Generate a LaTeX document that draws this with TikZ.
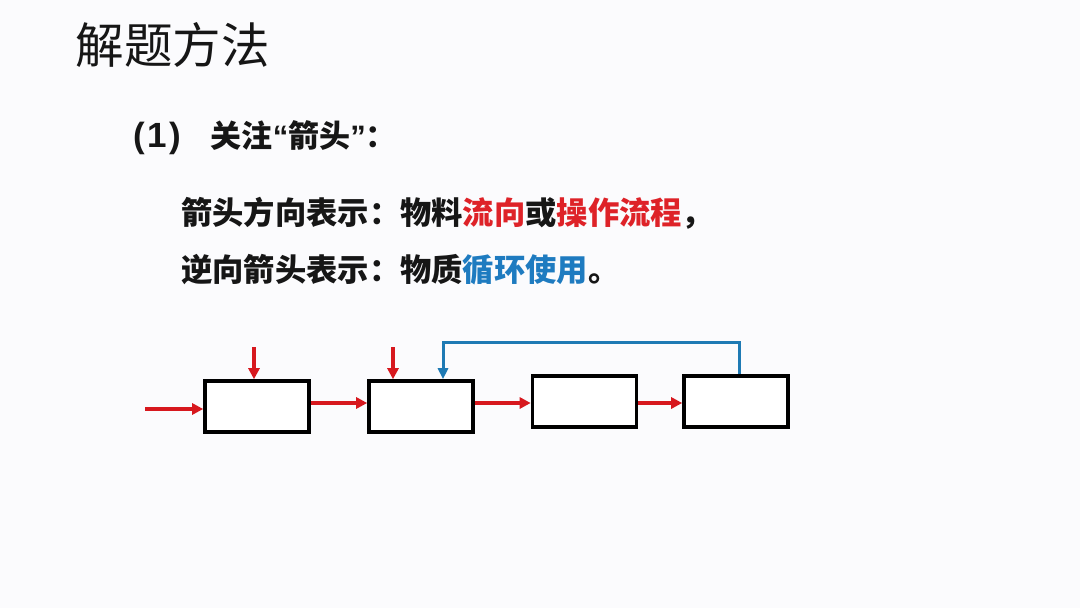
\documentclass[tikz,border=0pt]{standalone}
\usepackage{fontspec}
\newfontfamily\cjk{Noto Sans CJK SC}
\newfontfamily\lat{Liberation Sans}
\usetikzlibrary{arrows.meta}
\definecolor{bgc}{RGB}{251,251,253}
\definecolor{txt}{RGB}{22,22,22}
\definecolor{redc}{RGB}{215,24,30}
\definecolor{redt}{RGB}{222,34,40}
\definecolor{bluec}{RGB}{30,122,180}
\definecolor{bluet}{RGB}{30,123,192}
\tikzset{
  box/.style={draw=black, line width=3.6pt, minimum width=104pt, minimum height=51pt, inner sep=0pt, fill=white},
  redarrow/.style={draw=redc, line width=3.2pt, -{Triangle[length=11pt,width=11pt]}},
  bluearrow/.style={draw=bluec, line width=3pt, -{Triangle[length=11pt,width=10pt]}},
  txtnode/.style={anchor=west, inner sep=0pt, text=txt}
}
\begin{document}
\begin{tikzpicture}[x=1pt,y=-1pt]
\fill[bgc] (0,0) rectangle (1080,608);
\useasboundingbox (0,0) rectangle (1080,608);

\node[txtnode, font=\cjk\fontsize{48.5}{52}\selectfont] (title) at (75.5,45) {解题方法};
\node[txtnode, font=\cjk\bfseries\fontsize{31}{34}\selectfont] (l2) at (133,138) {{\lat\bfseries\fontsize{35}{38}\selectfont (\kern2.5pt 1\kern2.5pt )}\hspace{30pt}关注{\lat\bfseries “}箭头{\lat\bfseries ”}：};
\node[txtnode, font=\cjk\bfseries\fontsize{31.3}{34}\selectfont] (l3) at (181,213) {箭头方向表示：物料{\color{redt}流向}或{\color{redt}操作流程}，};
\node[txtnode, font=\cjk\bfseries\fontsize{31.3}{34}\selectfont] (l4) at (181,270) {逆向箭头表示：物质{\color{bluet}循环使用}。};

\node[box] (b1) at (257,406.5) {};
\node[box] (b2) at (421,406.5) {};
\node[box] (b3) at (584.5,401.5) {};
\node[box] (b4) at (736,401.5) {};

\coordinate (in0) at (145,409);
\coordinate (t1) at (254,347);
\coordinate (t2) at (393,347);
\coordinate (c1) at (739,342);
\coordinate (c2) at (443,342);

\draw[redarrow] (in0) -- (in0 -| b1.west);
\draw[redarrow] (t1) -- (t1 |- b1.north);
\draw[redarrow] (t2) -- (t2 |- b2.north);
\draw[redarrow] (b1.east |- 0,403) -- (b2.west |- 0,403);
\draw[redarrow] (b2.east |- 0,403) -- (b3.west |- 0,403);
\draw[redarrow] (b3.east |- 0,403) -- (b4.west |- 0,403);
\draw[bluearrow] (c1 |- b4.north) -- (c1) -- (c2) -- (c2 |- b2.north);
\end{tikzpicture}
\end{document}
